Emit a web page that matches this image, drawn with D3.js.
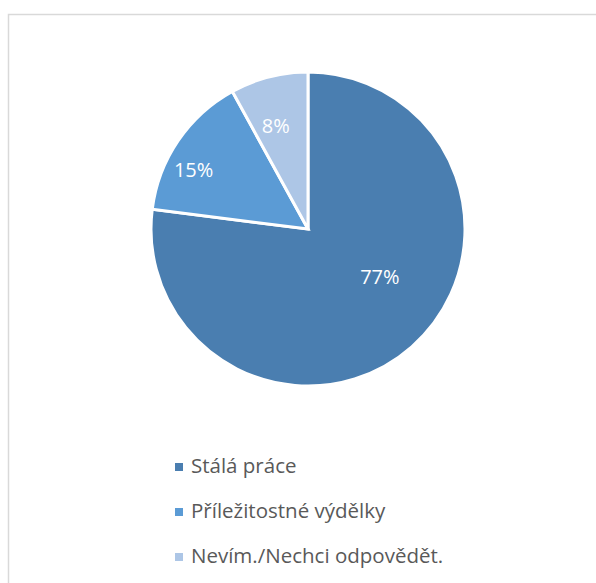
<!DOCTYPE html>
<html><head><meta charset="utf-8">
<script src="https://cdn.jsdelivr.net/npm/d3@7"></script>
<style>body{margin:0;background:#fff;} svg{display:block;}</style>
</head><body>
<script>
const categories = ["Stálá práce", "Příležitostné výdělky", "Nevím./Nechci odpovědět."];
const values = [77, 15, 8];
const labels = ["77%", "15%", "8%"];
const colors = ["#4a7eb0", "#5b9bd5", "#adc6e6"];

const W = 596, H = 583;
const svg = d3.select("body").append("svg").attr("width", W).attr("height", H);
svg.append("rect").attr("x", 8.5).attr("y", 14.5).attr("width", 620).attr("height", 600)
  .attr("fill", "none").attr("stroke", "#d9d9d9").attr("stroke-width", 1.5);

const cx = 308, cy = 229, r = 157;
const pie = d3.pie().sort(null).value(d => d)(values);
const arc = d3.arc().innerRadius(0).outerRadius(r);
const g = svg.append("g").attr("transform", `translate(${cx},${cy})`);
g.selectAll("path").data(pie).join("path")
  .attr("d", arc).attr("fill", (d, i) => colors[i])
  .attr("stroke", "#fff").attr("stroke-width", 3).attr("stroke-linejoin", "miter");

// label placement tuning (radius fraction, angle shift in radians)
const lp = [[0.55, -0.26], [0.82, -0.12], [0.69, -0.05]];
g.selectAll("text").data(pie).join("text")
  .attr("transform", (d, i) => {
    const a = (d.startAngle + d.endAngle) / 2 + lp[i][1];
    const rr = r * lp[i][0];
    return `translate(${rr * Math.sin(a)},${-rr * Math.cos(a)})`;
  })
  .attr("text-anchor", "middle").attr("dy", "0.35em")
  .attr("fill", "#fff").attr("font-family", "Open Sans, sans-serif").attr("font-size", 20)
  .text((d, i) => labels[i]);

const leg = svg.append("g");
categories.forEach((c, i) => {
  const y = 473 + i * 45;
  leg.append("rect").attr("x", 175).attr("y", y - 10).attr("width", 8).attr("height", 8).attr("fill", colors[i]);
  leg.append("text").attr("x", 191).attr("y", y).attr("fill", "#595959")
    .attr("font-family", "Open Sans, sans-serif").attr("font-size", 20.5).text(c);
});
</script>
</body></html>
